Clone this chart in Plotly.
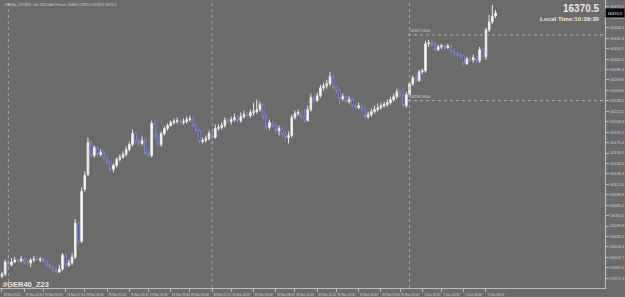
import plotly.graph_objects as go

# ---------------- data (M20 bars, #GER40_Z23) ----------------
bar_index = list(range(156))

opens = [15974.5,15977.5,15997,15991,15995.5,15998.5,15997,16000,15995.5,15994,
         15998.5,16000,15998.5,16000,15997,15991,15988,15983.5,15980.5,15985,
         16004.5,15991,15994,16003,16052.5,16027,16105,16127.5,16174,16156,
         16166.5,16157.5,16160.5,16151.5,16145.5,16135,16141,16150,16153,16157.5,
         16165,16172.5,16189,16177,16174,16178.5,16159,16156,16204,16184.5,
         16172.5,16189,16196.5,16201,16205.5,16207,16208.5,16205.5,16207,16210,
         16211.5,16201,16193.5,16177,16178.5,16181.5,16189,16183,16196.5,16198,
         16201,16208.5,16207,16210,16213,16208.5,16214.5,16217.5,16216,16220.5,
         16222,16225,16232.5,16213,16198,16205.5,16201,16193.5,16196.5,16187.5,
         16183,16186,16213,16219,16220.5,16214.5,16208.5,16225,16243,16238.5,
         16246,16258,16261,16264,16274.5,16258,16253.5,16241.5,16244.5,16237,
         16240,16231,16228,16231,16226.5,16214.5,16217.5,16222,16225,16228,
         16231,16232.5,16235.5,16240,16244.5,16252,16246,16231,16247.5,16264,
         16273,16268.5,16282,16283.5,16324,16325.5,16324,16315,16319.5,16321,
         16318,16321,16312,16309,16307.5,16306,16294,16301.5,16300,16303,
         16298.5,16315,16304.5,16345,16357,16366]
highs = [15980.5,15998.5,16000,16001.5,16003,16001.5,16004.5,16003,15998.5,16001.5,
         16004.5,16006,16003,16003,15998.5,15994,15991,15988,15991,16009,
         16007.5,15998.5,16009,16060,16057,16108,16132,16183,16178.5,16171,
         16169.5,16165,16163.5,16154.5,16148.5,16144,16153,16157.5,16162,16169.5,
         16177,16195,16192,16181.5,16184.5,16181.5,16165,16208.5,16210,16189,
         16192,16199.5,16204,16208.5,16211.5,16213,16211.5,16211.5,16214.5,16216,
         16214.5,16204,16196.5,16183,16186,16193.5,16192,16202.5,16202.5,16205.5,
         16213,16213,16214.5,16219,16217.5,16220.5,16223.5,16222,16225,16235.5,
         16240,16237,16235.5,16217.5,16210,16208.5,16204,16201,16199.5,16192,
         16192,16217.5,16223.5,16225,16223.5,16226.5,16231,16249,16246,16250.5,
         16262.5,16265.5,16270,16282,16279,16261,16256.5,16249,16247.5,16244.5,
         16243,16234,16235.5,16234,16229.5,16222,16226.5,16231,16234,16235.5,
         16237,16240,16244.5,16249,16256.5,16259.5,16258,16252,16267,16276,
         16280.5,16285,16286.5,16328.5,16330,16330,16327,16322.5,16324,16322.5,
         16324,16322.5,16316.5,16312,16310.5,16307.5,16304.5,16306,16307.5,16306,
         16319.5,16318,16348,16367.5,16382.5,16375]
lows = [15971.5,15974.5,15988,15989.5,15994,15994,15995.5,15992.5,15991,15988,
        15995.5,15997,15995.5,15994,15988,15985,15980.5,15977.5,15979,15982,
        15988,15988,15991,16000,16022.5,16024,16102,16124.5,16153,16153,
        16153,16154.5,16148.5,16142.5,16132,16130.5,16138,16147,16151.5,16154.5,
        16162,16169.5,16172.5,16169.5,16171,16156,16153,16153,16181.5,16169.5,
        16169.5,16186,16193.5,16199.5,16202.5,16204,16202.5,16202.5,16204,16207,
        16198,16190.5,16174,16174,16175.5,16178.5,16180,16181.5,16193.5,16195,
        16198,16204,16202.5,16207,16205.5,16205.5,16211.5,16213,16213,16216,
        16219,16222,16210,16195,16195,16198,16189,16186,16183,16175.5,
        16174,16183,16210,16216,16211.5,16205.5,16207,16222,16234,16237,
        16243,16253.5,16256.5,16261,16255,16249,16232.5,16238.5,16234,16234,
        16228,16223.5,16225,16222,16211.5,16211.5,16214.5,16219,16222,16225,
        16228,16229.5,16232.5,16237,16241.5,16243,16228,16228,16244.5,16261,
        16265.5,16267,16279,16280.5,16319.5,16321,16312,16313.5,16316.5,16315,
        16316.5,16310.5,16306,16304.5,16303,16291,16292.5,16297,16295.5,16294,
        16295.5,16301.5,16300,16342,16354,16363]
closes = [15977.5,15995.5,15991,15995.5,15998.5,15997,16000,15995.5,15994,15998.5,
          16000,15998.5,16000,15997,15991,15988,15983.5,15980.5,15985,16006,
          15991,15994,16003,16054,16027,16102,16126,16175.5,16156,16168,
          16157.5,16160.5,16151.5,16145.5,16135,16141,16150,16153,16157.5,16165,
          16172.5,16189,16177,16174,16178.5,16159,16156,16204,16184.5,16172.5,
          16189,16196.5,16201,16205.5,16207,16208.5,16205.5,16207,16210,16211.5,
          16201,16193.5,16177,16178.5,16181.5,16189,16183,16196.5,16198,16201,
          16208.5,16207,16210,16213,16208.5,16214.5,16217.5,16216,16220.5,16222,
          16225,16232.5,16213,16198,16205.5,16201,16193.5,16196.5,16187.5,16183,
          16186,16213,16219,16220.5,16214.5,16208.5,16225,16243,16238.5,16246,
          16258,16261,16264,16274.5,16258,16253.5,16241.5,16244.5,16237,16240,
          16231,16228,16231,16226.5,16214.5,16217.5,16222,16225,16228,16231,
          16232.5,16235.5,16240,16244.5,16252,16246,16231,16247.5,16264,16273,
          16268.5,16282,16283.5,16324,16325.5,16324,16315,16319.5,16321,16318,
          16321,16312,16309,16307.5,16306,16294,16301.5,16300,16303,16298.5,
          16315,16304.5,16345,16357,16366,16370.5]

price_ticks = [16379.5,16363.8,16348.1,16332.4,16316.7,16301.0,16285.3,16269.6,16253.9,
               16238.2,16222.5,16206.8,16191.1,16175.4,16159.7,16144.0,16128.3,16112.6,
               16096.9,16081.2,16065.5,16049.8,16034.1,16018.4,16002.7,15987.0,15971.3]
price_tick_labels = [f"{v:.1f}" for v in price_ticks]

time_tick_bars = [0,7,13,20,26,33,40,46,53,59,66,72,79,86,92,99,105,112,119,125,132,138,145,152]
time_tick_labels = ["28 Nov 2023","29 Nov 02:40","29 Nov 04:40","29 Nov 07:00","29 Nov 09:00",
                    "29 Nov 11:20","29 Nov 13:40","29 Nov 15:40","29 Nov 18:00","29 Nov 20:00",
                    "30 Nov 01:20","30 Nov 03:20","30 Nov 05:40","30 Nov 08:00","30 Nov 10:00",
                    "30 Nov 12:20","30 Nov 14:20","30 Nov 16:40","30 Nov 19:00","30 Nov 21:00",
                    "1 Dec 02:20","1 Dec 04:20","1 Dec 06:40","1 Dec 09:00"]

day_start_bars = [2, 66, 128]
level_lines = [16337.5, 16238.5]
level_start_bar = 127.5

symbol = "#GER40_Z23"
title_text = "#GER40_Z23,M20:  Dec 2023 DAX Futures  16366.0 16375.0 16363.0 16370.5"
last_price = closes[-1]
local_time = "Local Time:10:39:30"

# ---------------- figure ----------------
BG = "#6b6b6b"
TXT = "#d4d4d4"
AX = "#bdbdbd"

fig = go.Figure()
fig.add_trace(go.Candlestick(
    x=bar_index, open=opens, high=highs, low=lows, close=closes,
    increasing=dict(fillcolor="#ffffff", line=dict(color="#ececec", width=1)),
    decreasing=dict(fillcolor="#303096", line=dict(color="#8686c4", width=1)),
    whiskerwidth=0, hoverinfo="skip", showlegend=False,
))

x_min, x_max = -0.625, 189.375
y_min, y_max = 15956.5, 16390

shapes = []
for b in day_start_bars:
    shapes.append(dict(type="line", xref="x", yref="paper", x0=b, x1=b, y0=0, y1=1,
                       line=dict(color="#a8a8a8", width=1, dash="dot")))
for lv in level_lines:
    shapes.append(dict(type="line", xref="x", yref="y", x0=level_start_bar, x1=x_max,
                       y0=lv, y1=lv, line=dict(color="#b4b4b4", width=1, dash="dot")))

annotations = [
    dict(xref="paper", yref="paper", x=0.003, y=0.995, xanchor="left", yanchor="top",
         text=title_text, showarrow=False, font=dict(size=3.2, color=TXT, family="Arial")),
    dict(xref="paper", yref="paper", x=0.995, y=0.998, xanchor="right", yanchor="top",
         text=f"<b>{last_price:.1f}</b>", showarrow=False,
         font=dict(size=10, color="#e8e8e8", family="Arial")),
    dict(xref="paper", yref="paper", x=0.995, y=0.955, xanchor="right", yanchor="top",
         text=f"<b>{local_time}</b>", showarrow=False,
         font=dict(size=6.2, color="#e8e8e8", family="Arial")),
    dict(xref="paper", yref="paper", x=0.002, y=0.0, xanchor="left", yanchor="bottom",
         text=f"<b>{symbol}</b>", showarrow=False, yshift=-3,
         font=dict(size=7.5, color="#e8e8e8", family="Arial")),
    dict(xref="paper", yref="y", x=1.0, y=last_price, xanchor="left", yanchor="middle",
         text=f"{last_price:.1f}", showarrow=False, bgcolor="#000000",
         font=dict(size=4, color="#ffffff", family="Arial"), borderpad=1.5),
]
for lv in level_lines:
    annotations.append(dict(xref="x", yref="y", x=level_start_bar, y=lv, xanchor="left",
                            yanchor="bottom", text=f"{lv:.4f}", showarrow=False,
                            font=dict(size=3.8, color=TXT, family="Arial")))

fig.update_layout(
    width=625, height=297,
    margin=dict(l=0, r=17, t=0, b=8, pad=0),
    paper_bgcolor=BG, plot_bgcolor=BG,
    shapes=shapes, annotations=annotations,
    xaxis=dict(range=[x_min, x_max], rangeslider=dict(visible=False), showgrid=False,
               zeroline=False, showline=True, linecolor=AX, linewidth=1,
               ticks="outside", ticklen=3, tickcolor=AX, tickangle=0,
               tickvals=time_tick_bars, ticktext=time_tick_labels,
               tickfont=dict(size=3.0, color=TXT, family="Arial"),
               ticklabelshift=10, ticklabelstandoff=0),
    yaxis=dict(range=[y_min, y_max], side="right", showgrid=False, zeroline=False,
               showline=True, linecolor=AX, linewidth=1,
               ticks="outside", ticklen=3, tickcolor=AX,
               tickvals=price_ticks, ticktext=price_tick_labels,
               tickfont=dict(size=4, color=TXT, family="Arial"), ticklabelstandoff=0),
)

fig.write_html("out.html")
